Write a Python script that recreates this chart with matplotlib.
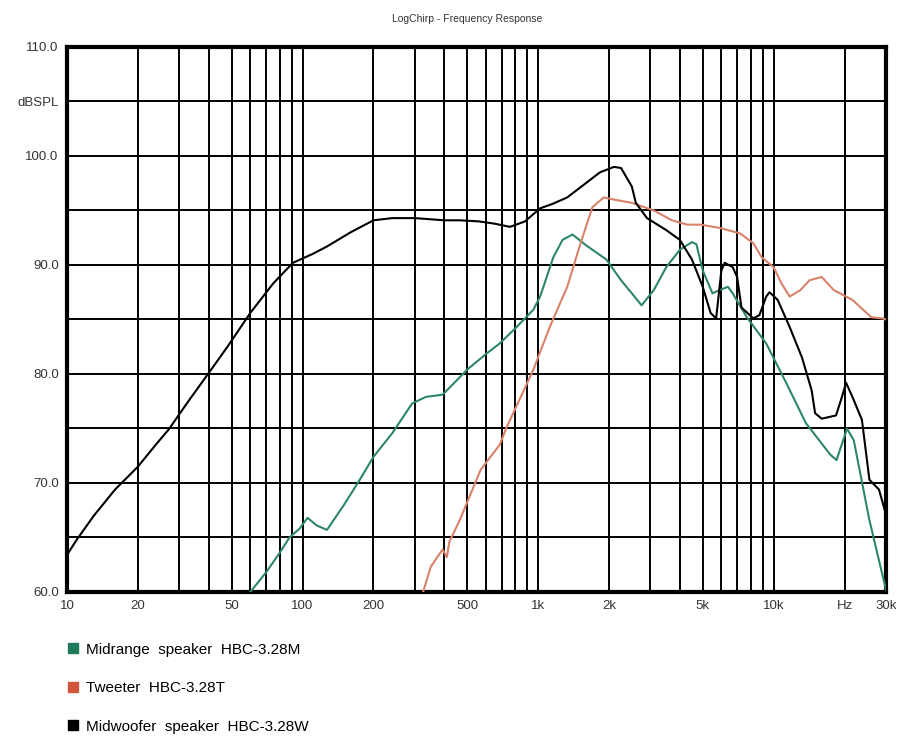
import numpy as np
import matplotlib
matplotlib.use("Agg")
import matplotlib.pyplot as plt
from matplotlib.lines import Line2D

plt.rcParams['font.family'] = ['Liberation Sans', 'DejaVu Sans']

# midwoofer HBC-3.28W
woofer_f = [10, 11, 13, 16, 20, 24, 27, 33, 40, 48, 60, 75, 91, 110, 127, 160, 200, 240,
            300, 400, 465, 560, 650, 760, 880, 1020, 1150, 1330, 1550, 1830, 2100, 2250,
            2500, 2600, 2900, 3500, 4000, 4500, 5000, 5400, 5700, 6000, 6200, 6700, 7000,
            7300, 8200, 8700, 9300, 9600, 10400, 11700, 13200, 14500, 15000, 16000,
            18400, 19500, 20300, 21600, 23700, 25500, 28000, 30000]
woofer_db = [63.4, 64.8, 67.0, 69.4, 71.5, 73.6, 74.9, 77.6, 80.1, 82.5, 85.6, 88.3, 90.2,
             91.0, 91.7, 93.0, 94.1, 94.3, 94.3, 94.1, 94.1, 94.0, 93.8, 93.5, 94.0, 95.2,
             95.6, 96.2, 97.3, 98.5, 99.0, 98.9, 97.2, 95.7, 94.3, 93.2, 92.3, 90.5, 88.0,
             85.6, 85.1, 89.5, 90.2, 89.8, 88.9, 86.1, 85.1, 85.4, 87.1, 87.5, 86.8, 84.3,
             81.5, 78.5, 76.4, 75.9, 76.2, 77.9, 79.2, 77.9, 75.8, 70.3, 69.4, 67.1]

# midrange HBC-3.28M
mid_f = [60, 70, 80, 88, 97, 105, 115, 127, 150, 175, 200, 241, 292, 334, 393, 465, 500,
         606, 687, 810, 955, 1020, 1160, 1270, 1400, 1600, 1950, 2250, 2500, 2750, 3100,
         3500, 4000, 4500, 4700, 5000, 5500, 5900, 6400, 6700, 7700, 9300, 11300, 13700,
         17400, 18500, 20500, 21900, 25500, 28000, 30000]
mid_db = [60.0, 61.8, 63.6, 65.0, 65.8, 66.8, 66.1, 65.7, 68.0, 70.3, 72.4, 74.6, 77.3,
          77.9, 78.1, 79.7, 80.4, 81.9, 82.8, 84.3, 85.9, 87.1, 90.7, 92.3, 92.8, 91.8,
          90.5, 88.6, 87.4, 86.3, 87.7, 89.8, 91.4, 92.1, 91.9, 89.5, 87.4, 87.7, 88.0,
          87.4, 85.2, 82.8, 79.2, 75.5, 72.6, 72.1, 75.0, 73.9, 66.6, 62.9, 60.2]

# tweeter HBC-3.28T
tw_f = [325, 350, 393, 410, 420, 465, 570, 687, 735, 955, 1120, 1330, 1500, 1700, 1900,
        2100, 2500, 3100, 3700, 4300, 4900, 5900, 7200, 8200, 8900, 10000, 10800, 11700,
        13000, 14200, 16000, 18000, 21600, 26000, 29000, 30000]
tw_db = [60.0, 62.3, 63.9, 63.2, 64.6, 66.6, 71.2, 73.5, 75.1, 80.4, 84.3, 88.0, 91.7,
         95.3, 96.2, 96.0, 95.7, 95.0, 94.1, 93.7, 93.7, 93.4, 92.9, 92.0, 90.7, 89.8,
         88.3, 87.1, 87.7, 88.6, 88.9, 87.7, 86.8, 85.2, 85.1, 85.0]

x_ticks = [10, 20, 50, 100, 200, 500, 1000, 2000, 5000, 10000, 20000, 30000]
x_labels = ['10', '20', '50', '100', '200', '500', '1k', '2k', '5k', '10k', 'Hz', '30k']
y_ticks = [60, 70, 80, 90, 100, 105, 110]
y_labels = ['60.0', '70.0', '80.0', '90.0', '100.0', 'dBSPL', '110.0']

green = '#2e8763'
red = '#d9826a'

fig = plt.figure(figsize=(9.03, 7.4), dpi=100)
ax = fig.add_axes([0.0742, 0.2, 0.907, 0.7365])

# grid: decade subdivisions
vlines = [m * 10 ** d for d in range(1, 5) for m in range(1, 10) if m * 10 ** d < 30000]
for v in vlines:
    ax.axvline(v, color='black', lw=1.4, zorder=1)
for h in range(60, 111, 5):
    ax.axhline(h, color='black', lw=1.4, zorder=1)

ax.plot(mid_f, mid_db, color=green, lw=1.5, zorder=3)
ax.plot(tw_f, tw_db, color=red, lw=1.5, zorder=3)
ax.plot(woofer_f, woofer_db, color='black', lw=1.5, zorder=4)

ax.set_xscale('log')
ax.set_xlim(10, 30000)
ax.set_ylim(60, 110)
ax.xaxis.set_minor_locator(matplotlib.ticker.NullLocator())
ax.set_xticks(x_ticks)
ax.set_xticklabels(x_labels)
ax.set_yticks(y_ticks)
ax.set_yticklabels(y_labels)
ax.tick_params(length=0, labelsize=9.5, colors='#333333', pad=6)
for s in ax.spines.values():
    s.set_linewidth(3)

fig.text(0.517, 0.975, 'LogChirp - Frequency Response', ha='center', va='center',
         fontsize=7.5, color='#333333')

handles = [Line2D([], [], ls='none', marker='s', markersize=7, color=c)
           for c in ['#1e7a57', '#d0553c', 'black']]
labels = ['Midrange  speaker  HBC-3.28M', 'Tweeter  HBC-3.28T', 'Midwoofer  speaker  HBC-3.28W']
fig.legend(handles, labels, loc='upper left', bbox_to_anchor=(0.055, 0.15), frameon=False,
           fontsize=11, labelspacing=1.6, handletextpad=0.3, handlelength=1.2)

fig.savefig('out.png', dpi=100, facecolor='white')
